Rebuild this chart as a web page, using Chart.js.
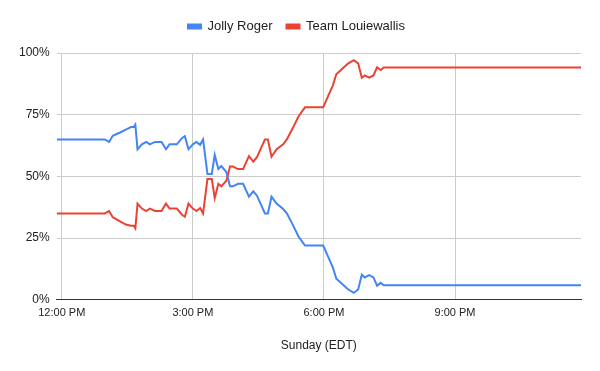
<!DOCTYPE html>
<html lang="en">
<head>
  <meta charset="UTF-8">
  <title>Jolly Roger vs Team Louiewallis</title>
  <script src="https://cdnjs.cloudflare.com/ajax/libs/Chart.js/4.4.1/chart.umd.min.js"></script>
  <style>
    html, body { margin: 0; padding: 0; background: #fff; }
    #wrap { width: 600px; height: 371px; }
  </style>
</head>
<body>
  <div id="wrap"><canvas id="chart" width="600" height="371"></canvas></div>
  <script>
    // minutes after 12:00 PM (Sunday, EDT)
    const times = [-7, 59, 65, 70, 80, 88, 95, 99, 101, 104, 110, 116, 121, 128, 137, 143, 148, 158, 165, 169,
      174, 180, 185, 190, 194, 200, 206, 210, 215, 219, 226, 231, 235, 242, 249, 257, 263, 268, 279, 283,
      288, 295, 304, 309, 318, 325, 334, 359, 366, 372, 377, 387, 393, 401, 407, 412, 416, 422, 428, 433,
      438, 442, 713];

    const jollyRoger = [65, 65, 64, 66.5, 67.8, 69, 70, 70, 71, 61, 63, 64, 63, 64, 64, 61, 63, 63, 65.5, 66.3,
      61, 63, 64, 62.8, 65, 51, 51, 58.7, 53, 54.2, 51.8, 46, 46, 47, 47, 41.8, 44, 42.2, 35, 35,
      41.8, 39, 36.8, 35.1, 30, 25.7, 22, 22, 17.3, 13.3, 8.6, 5.9, 4.3, 2.9, 4.2, 10.2, 9.1, 10, 9.1, 5.8,
      6.9, 5.9, 5.9];

    const teamLouiewallis = [35, 35, 36, 33.5, 31.8, 30.5, 30, 30, 29, 39, 37, 36, 37, 36, 36, 39, 37, 37, 34.5, 33.7,
      39, 37, 36, 37.2, 35, 49, 49, 41.3, 47, 46, 48.3, 54, 54, 53, 53, 58.2, 56, 57.8, 65, 65,
      58, 61, 63, 65, 70, 74.3, 78, 78, 82.7, 86.7, 91.4, 94.1, 95.7, 97.1, 95.8, 90, 90.9, 90, 90.9, 94.2,
      93.1, 94.1, 94.1];

    const xTicks = [0, 180, 360, 540];
    const xTickLabels = ['12:00 PM', '3:00 PM', '6:00 PM', '9:00 PM'];
    const yTicks = [0, 25, 50, 75, 100];

    const toPoints = vals => vals.map((v, i) => ({ x: times[i], y: v }));

    // a bit more room under the legend
    const legendGap = {
      id: 'legendGap',
      beforeInit(chart) {
        const fit = chart.legend.fit;
        chart.legend.fit = function () {
          fit.bind(chart.legend)();
          this.height += 10;
        };
      }
    };

    Chart.defaults.font.family = 'Arial, "Liberation Sans", sans-serif';
    Chart.defaults.color = '#222';

    new Chart(document.getElementById('chart').getContext('2d'), {
      type: 'line',
      data: {
        datasets: [
          {
            label: 'Jolly Roger',
            data: toPoints(jollyRoger),
            borderColor: '#4285f4',
            backgroundColor: '#4285f4',
            borderWidth: 2,
            pointRadius: 0,
            tension: 0
          },
          {
            label: 'Team Louiewallis',
            data: toPoints(teamLouiewallis),
            borderColor: '#ea4335',
            backgroundColor: '#ea4335',
            borderWidth: 2,
            pointRadius: 0,
            tension: 0
          }
        ]
      },
      options: {
        responsive: false,
        animation: false,
        layout: { padding: { top: 6, left: 12, right: 19, bottom: 18 } },
        plugins: {
          legend: {
            position: 'top',
            labels: { boxWidth: 13, boxHeight: 4, font: { size: 13 }, color: '#222', padding: 14 }
          },
          tooltip: { enabled: false }
        },
        scales: {
          x: {
            type: 'linear',
            min: -7,
            max: 713,
            afterBuildTicks: s => { s.ticks = xTicks.map(v => ({ value: v })); },
            ticks: {
              padding: 6,
              maxRotation: 0,
              font: { size: 11 },
              color: '#222',
              callback: v => xTickLabels[xTicks.indexOf(v)]
            },
            grid: { color: '#cccccc', drawTicks: false },
            border: { color: '#333333', width: 1 },
            title: {
              display: true,
              text: 'Sunday (EDT)',
              font: { size: 12 },
              color: '#222',
              padding: { top: 13.5, bottom: 0 }
            }
          },
          y: {
            min: 0,
            max: 100,
            afterBuildTicks: s => { s.ticks = yTicks.map(v => ({ value: v })); },
            ticks: {
              padding: 7,
              font: { size: 12 },
              color: '#222',
              callback: v => v + '%'
            },
            grid: { color: '#cccccc', drawTicks: false },
            border: { display: false }
          }
        }
      },
      plugins: [legendGap]
    });
  </script>
</body>
</html>
